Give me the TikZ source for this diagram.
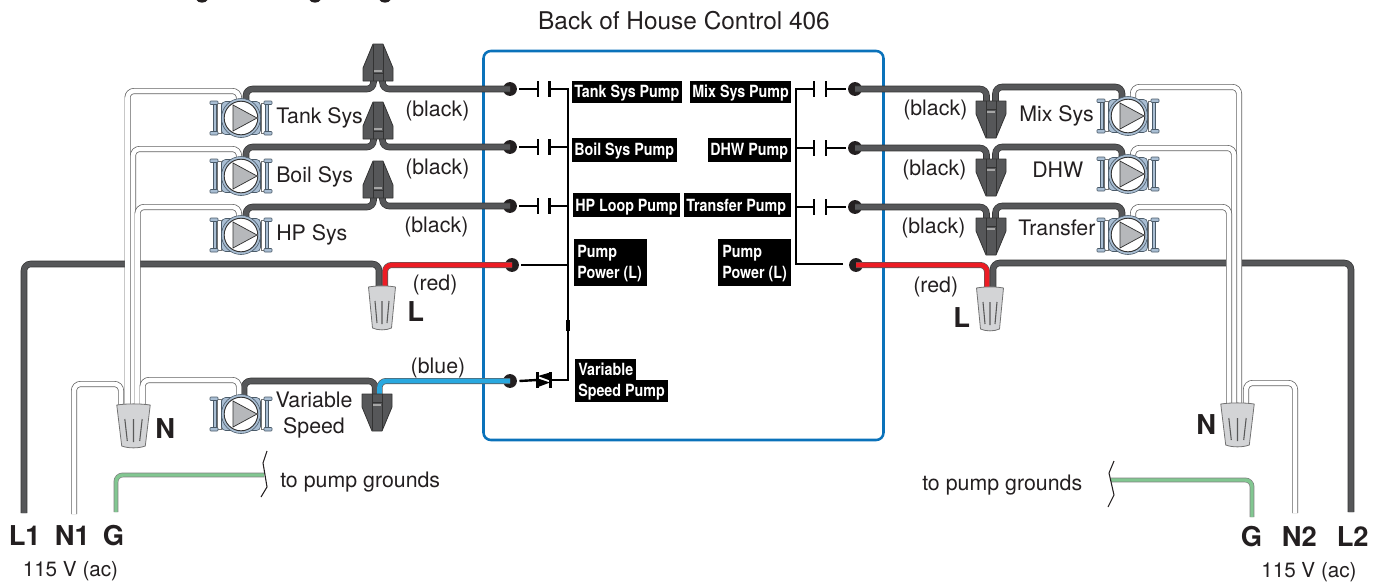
\documentclass[tikz,border=0pt]{standalone}
\usepackage{fontspec}
\usepackage{graphicx}
\setmainfont{TeX Gyre Heros}
\pgfdeclarelayer{under}
\pgfdeclarelayer{wires}
\pgfsetlayers{under,wires,main}
\definecolor{ink}{HTML}{231F20}
\definecolor{wiregrey}{HTML}{565759}
\definecolor{wireedge}{HTML}{333333}
\definecolor{boxblue}{HTML}{0A72BA}
\definecolor{pumpblue}{HTML}{A9BED3}
\definecolor{pumpedge}{HTML}{4A5A68}
\definecolor{triangrey}{HTML}{B6B8BB}
\definecolor{nutgrey}{HTML}{D3D4D6}
\definecolor{wirered}{HTML}{ED1C24}
\definecolor{wireblue}{HTML}{29A8DF}
\definecolor{wiregreen}{HTML}{82C791}
\tikzset{
  wirebase/.style={line width=.5pt,rounded corners=5pt,line cap=butt},
  blackwire/.style={wirebase,draw=wireedge,double=wiregrey,double distance=3.9pt},
  whitewire/.style={wirebase,line width=.55pt,draw=black!62,double=white,double distance=3.4pt},
  redwire/.style={wirebase,draw=black!65,double=wirered,double distance=3.5pt},
  bluewire/.style={wirebase,draw=black!65,double=wireblue,double distance=3.5pt},
  greenwire/.style={wirebase,draw=black!50,double=wiregreen,double distance=2.6pt},
  ctl/.style={draw=black,line width=1.8pt},
  termdot/.style={circle,fill=ink,inner sep=0pt,minimum size=10.4pt},
  lbl/.style={anchor=base west,inner sep=0pt,text=ink,font=\fontsize{16}{18}\selectfont},
  lblc/.style={lbl,anchor=base},
  big/.style={anchor=base west,inner sep=0pt,text=ink,font=\fontsize{20.5}{23}\selectfont\bfseries},
  blk/.style={anchor=base west,inner sep=0pt,text=white,font=\fontsize{12.6}{15.8}\selectfont\bfseries,align=left},
  pumpicon/.pic={
    \foreach \s in {-1,1}{
      \draw[black!55,line width=.3pt,fill=white] (\s*20,-15) rectangle (\s*24,15);
      \draw[pumpedge,line width=.4pt,fill=pumpblue] (\s*24.5,-16) rectangle (\s*27.5,16);
      \foreach \t in {-1,1}{
        \draw[pumpedge,line width=.4pt,fill=pumpblue,rounded corners=.6pt] (\s*23,\t*13.5) rectangle (\s*31,\t*17);
      }
    }
    \draw[pumpedge,line width=.45pt,fill=pumpblue,rounded corners=3pt] (-19.5,-16.5) rectangle (19.5,16.5);
    \draw[pumpedge,line width=.45pt,fill=pumpblue] (0,0) circle (19.5);
    \draw[black!80,line width=.7pt,fill=white] (0,0) circle (16.8);
    \draw[black!80,line width=.55pt,fill=triangrey] (-8,-13) -- (16,0) -- (-8,13) -- cycle;
    \coordinate (-l) at (-6,-14);
    \coordinate (-c) at (-2,-14);
    \coordinate (-s) at (3,-14);
    \coordinate (-r) at (5,-14);
  },
  splice/.pic={
    \draw[wireedge,line width=.6pt,fill=wiregrey,line join=round]
      (-5,0) -- (5,0) -- (15,24) -- (15,37) -- (-15,37) -- (-15,24) -- cycle;
    \draw[black!80,line width=.4pt] (-5,1) -- (-5,37) (5,1) -- (5,37) (-5,29) -- (5,29);
    \fill[black!35] (-4,25.5) rectangle (4,27.5);
    \coordinate (-a) at (-4.5,35);
    \coordinate (-b) at (4.5,35);
  },
  greynut/.pic={
    \draw[black!55,line width=.6pt,fill=nutgrey,line join=round]
      (-13.5,1) .. controls (-5,-.5) and (5,-.5) .. (13.5,1) -- (9.5,42)
      .. controls (4,44.5) and (-4,44.5) .. (-9.5,42) -- cycle;
    \draw[black!65,line width=.8pt] (-7,15) -- (-5,37) (0,15) -- (0,38) (7,15) -- (5,37);
    \coordinate (-a) at (-3,3);
    \coordinate (-b) at (3,3);
  },
}
\newcommand{\blab}[7]{%
  \fill[black] (#2,#3) rectangle (#4,#5);
  \node[blk] (#1) at (#2+2,#6) {#7};}
\newcommand{\nar}[1]{\scalebox{.85}[1]{#1}}
\newcommand{\contactL}[2]{%
  \draw[ctl] ([xshift=1.7pt]#1.east) -- (537,#2);
  \draw[ctl] (538,#2-8) -- (538,#2+8) (549.5,#2-8) -- (549.5,#2+8);
  \draw[ctl] (549.5,#2) -- (568,#2);}
\newcommand{\contactR}[2]{%
  \draw[ctl] (796,#2) -- (814,#2);
  \draw[ctl] (814,#2-8) -- (814,#2+8) (826,#2-8) -- (826,#2+8);
  \draw[ctl] (826,#2) -- ([xshift=-1.7pt]#1.west);}
\begin{document}
\begin{tikzpicture}[x=.75pt,y=-.75pt]
\useasboundingbox (0,0) rectangle (1389,583);
% cropped title descenders
\fill[ink] (196.5,0) .. controls (198,3.5) and (206,3.5) .. (207.5,0) -- cycle;
\fill[ink] (309.5,0) .. controls (311,3.5) and (319,3.5) .. (320.5,0) -- cycle;
\fill[ink] (379.5,0) .. controls (381,3.5) and (389,3.5) .. (390.5,0) -- cycle;
\node[lblc,font=\fontsize{18.3}{20}\selectfont] (title) at (684,29) {Back of House Control 406};
% control box and terminals
\begin{pgfonlayer}{under}
\draw[boxblue,line width=1.9pt,rounded corners=5.5pt] (483.5,51) rectangle (883.5,440);
\node[termdot] (dT) at (510,89) {};
\node[termdot] (dB) at (510,147) {};
\node[termdot] (dH) at (510,206) {};
\node[termdot] (dL) at (512,265) {};
\node[termdot] (dV) at (510,381) {};
\node[termdot] (dM) at (855,89) {};
\node[termdot] (dD) at (855,148) {};
\node[termdot] (dF) at (855,207) {};
\node[termdot] (dR) at (856,265) {};
\end{pgfonlayer}
% pumps
\pic (pT) at (241,118) {pumpicon};
\pic (pB) at (241,176) {pumpicon};
\pic (pH) at (241,235) {pumpicon};
\pic (pV) at (241,414) {pumpicon};
\pic (pM) at (1128,116) {pumpicon};
\pic (pD) at (1128,174) {pumpicon};
\pic (pF) at (1128,235) {pumpicon};
% splices
\pic (nT) at (378,44) {splice};
\pic (nB) at (378,102) {splice};
\pic (nH) at (378,161) {splice};
\pic[yscale=-1] (nV) at (377,431) {splice};
\pic[yscale=-1] (nM) at (991,138) {splice};
\pic[yscale=-1] (nD) at (991,196) {splice};
\pic[yscale=-1] (nF) at (991,255) {splice};
% wire nuts
\pic (nL) at (382,286) {greynut};
\pic (nR) at (990,287) {greynut};
\pic[xscale=1.24] (nN) at (133.5,404) {greynut};
\pic[xscale=1.24] (nS) at (1237.5,403) {greynut};
% wire ends
\coordinate (cL1) at (24,513);
\coordinate (cN1) at (74,514);
\coordinate (cG1) at (116,512);
\coordinate (sq1) at (264,475);
\coordinate (cL2) at (1351,512);
\coordinate (cN2) at (1295,513);
\coordinate (cG2) at (1252,517);
\coordinate (sq2) at (1111,480);
\coordinate (wa) at (121,406);
\coordinate (wb) at (127.5,406);
\coordinate (wc) at (133,406);
\coordinate (wd) at (137.5,406);
\coordinate (we) at (142.5,406);
\coordinate (ra) at (1229,405);
\coordinate (rb) at (1234,405);
\coordinate (rc) at (1239,405);
\coordinate (rd) at (1246,405);
\begin{pgfonlayer}{wires}
\draw[blackwire] (cL1) -- ++(0,-249) -| (nL-a);
\draw[redwire] (nL-b) |- (dL.center);
\draw[blackwire] (pT-r) -- ++(0,-15) -| (nT-a);
\draw[blackwire] (nT-b) |- (dT.center);
\draw[blackwire] (pB-r) -- ++(0,-15) -| (nB-a);
\draw[blackwire] (nB-b) |- (dB.center);
\draw[blackwire] (pH-r) -- ++(0,-14) -| (nH-a);
\draw[blackwire] (nH-b) |- (dH.center);
\draw[blackwire] (pV-s) -- ++(0,-19) -| ([xshift=2pt]nV-a);
\draw[bluewire] ([xshift=-1.5pt]nV-b) |- (dV.center);
\draw[whitewire] (pT-c) -- ++(0,-13) -| (wb);
\draw[whitewire] (pB-c) -- ++(0,-13) -| (wc);
\draw[whitewire] (pH-c) -- ++(0,-14) -| (wd);
\draw[whitewire] (pV-c) -- ++(0,-20) -| (we);
\draw[whitewire] (cN1) -- ++(0,-130) -| (wa);
\draw[greenwire] (cG1) |- (sq1);
\draw[blackwire] (pM-l) -- ++(0,-15) -| (nM-b);
\draw[blackwire] (dM.center) -| (nM-a);
\draw[blackwire] (pD-l) -- ++(0,-13) -| (nD-b);
\draw[blackwire] (dD.center) -| (nD-a);
\draw[blackwire] (pF-l) -- ++(0,-15) -| (nF-b);
\draw[blackwire] (dF.center) -| (nF-a);
\draw[blackwire] (nR-b) -- ++(0,-27) -| (cL2);
\draw[redwire] (dR.center) -| (nR-a);
\draw[whitewire] (pM-r) -- ++(0,-15) -| (rc);
\draw[whitewire] (pD-r) -- ++(0,-12) -| (rb);
\draw[whitewire] (pF-r) -- ++(0,-14) -| (ra);
\draw[whitewire] (cN2) -- ++(0,-130) -| (rd);
\draw[greenwire] (cG2) |- (sq2);
\end{pgfonlayer}
% squiggles
\draw[ink,line width=.8pt,line join=round] (267,451) -- (263,463) -- (267,487) -- (261,497);
\draw[ink,line width=.8pt,line join=round] (1114,461) -- (1109,473) -- (1114,495) -- (1108,507);
% control wiring
\contactL{dT}{89}
\contactL{dB}{147}
\contactL{dH}{206}
\draw[ctl] ([xshift=1.7pt]dL.east) -- (568,265);
\draw[ctl] ([xshift=1.7pt]dV.east) -- (537,380);
\draw[ctl] (568,88.2) -- (568,380) -- (550,380);
\draw[black,line width=2.6pt] (568,320) -- (568,331);
\draw[ctl] (537.5,372) -- (537.5,388) (550.5,372) -- (550.5,388);
\fill[black] (550,372.5) -- (550,380.5) -- (538,376) -- cycle;
\fill[black] (538,378.5) -- (538,387) -- (550,382.5) -- cycle;
\contactR{dM}{89}
\contactR{dD}{148}
\contactR{dF}{207}
\draw[ctl] (843,264) -- (796,264) -- (796,88.2);
% black labels
\blab{tTank}{572}{81}{682}{103}{97}{\nar{Tank Sys Pump}}
\blab{tBoil}{572}{138}{677}{162}{155}{\nar{Boil Sys Pump}}
\blab{tHP}{573}{193}{680}{217}{211}{\nar{HP Loop Pump}}
\blab{tMix}{690}{81}{791}{103}{97}{\nar{Mix Sys Pump}}
\blab{tDHW}{708}{138}{791}{162}{155}{\nar{DHW Pump}}
\blab{tTrans}{684}{193}{791}{217}{211}{\nar{Transfer Pump}}
\fill[black] (574,239) rectangle (647,286);
\fill[black] (718,239) rectangle (791,286);
\node[blk] (tPL1) at (577,257) {\nar{Pump}};
\node[blk] (tPL2) at (577,278) {\nar{Power (L)}};
\node[blk] (tPR1) at (722,257) {\nar{Pump}};
\node[blk] (tPR2) at (722,278) {\nar{Power (L)}};
\fill[black] (575,359) rectangle (636,381);
\fill[black] (575,380) rectangle (668,402);
\node[blk] (tVar) at (578,375) {\nar{Variable}};
\node[blk] (tSpd) at (578,396) {\nar{Speed Pump}};
% labels
\node[lbl] (a1) at (276,123) {Tank Sys};
\node[lbl] (a2) at (276,182) {Boil Sys};
\node[lbl] (a3) at (276,240) {HP Sys};
\node[lbl] (a4) at (405,116) {(black)};
\node[lbl] (a5) at (405,174) {(black)};
\node[lbl] (a6) at (404,232) {(black)};
\node[lblc] (a7) at (435,290) {(red)};
\node[lblc] (a8) at (438,373) {(blue)};
\node[lblc] (a9) at (314,407) {Variable};
\node[lblc] (a10) at (314,433) {Speed};
\node[lbl] (a11) at (280,487) {to pump grounds};
\node[lbl] (a12) at (922,490) {to pump grounds};
\node[lbl] (b1) at (903,115) {(black)};
\node[lbl] (b2) at (902,175) {(black)};
\node[lbl] (b3) at (901,233) {(black)};
\node[lbl] (b4) at (913,292) {(red)};
\node[lbl] (b5) at (1019,121) {Mix Sys};
\node[lbl] (b6) at (1032,177) {DHW};
\node[lbl] (b7) at (1018,235) {Transfer};
\node[big] (c1) at (407,321) {L};
\node[big] (c2) at (155,438) {N};
\node[big] (c3) at (953,327) {L};
\node[big] (c4) at (1196,434) {N};
\node[big] (c5) at (8.5,545) {L1};
\node[big] (c6) at (54.5,545) {N1};
\node[big] (c7) at (102.5,545) {G};
\node[big] (c8) at (1240.5,546) {G};
\node[big] (c9) at (1281.5,546) {N2};
\node[big] (c10) at (1336.5,546) {L2};
\node[lbl,font=\fontsize{15.5}{18}\selectfont] (d1) at (22.5,576) {115 V (ac)};
\node[lbl,font=\fontsize{15.5}{18}\selectfont] (d2) at (1261,577) {115 V (ac)};
\end{tikzpicture}
\end{document}
